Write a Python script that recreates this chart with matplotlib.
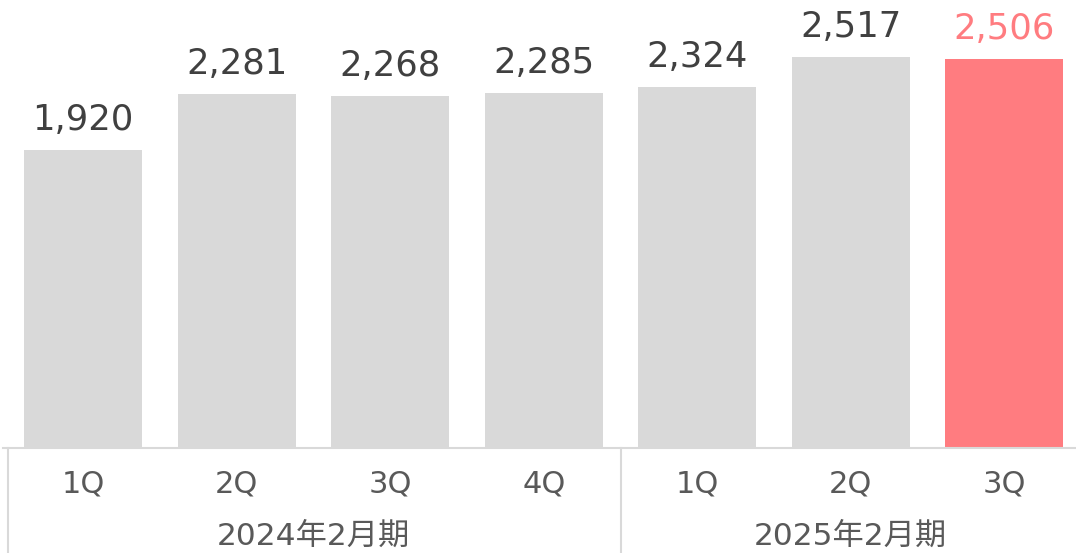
import matplotlib
matplotlib.use("Agg")
import matplotlib.pyplot as plt
from matplotlib.transforms import blended_transform_factory

plt.rcParams['font.family'] = ['DejaVu Sans', 'Noto Sans CJK JP']

quarters = ["1Q", "2Q", "3Q", "4Q", "1Q", "2Q", "3Q"]
values = [1920, 2281, 2268, 2285, 2324, 2517, 2506]
groups = ["2024年2月期", "2025年2月期"]
group_spans = [(0, 3), (4, 6)]
highlight_index = 6

bar_color = "#D9D9D9"
hi_color = "#FF7C80"
label_color = "#404040"
tick_color = "#595959"
line_color = "#D9D9D9"

W, H = 1076, 553
fig = plt.figure(figsize=(W / 100, H / 100), dpi=100)
left_px = 6.5
step = 153.5
ax_bottom_px = H - 448
ax = fig.add_axes([left_px / W, ax_bottom_px / H, 7 * step / W, 448 / H])
ax.set_xlim(-0.5, 6.5)
ax.set_ylim(0, 2884)
ax.axis('off')

x = list(range(len(values)))
colors = [hi_color if i == highlight_index else bar_color for i in x]
ax.bar(x, values, width=0.77, color=colors, zorder=2)

for i, v in enumerate(values):
    ax.annotate(f"{v:,}", (i, v), xytext=(0, 14.5), textcoords='offset points',
                ha='center', va='baseline', fontsize=25.5,
                color=hi_color if i == highlight_index else label_color)

tr = blended_transform_factory(ax.transData, ax.transAxes)
ybot = -ax_bottom_px / 448
# baseline
ax.plot([-0.52, 6.6], [0, 0], transform=tr, color=line_color, lw=1.5, clip_on=False, zorder=3)
# separators
for xs in [-0.49, 3.5, 6.5]:
    ax.plot([xs, xs], [0, ybot], transform=tr, color=line_color, lw=1.5, clip_on=False)

for i, q in enumerate(quarters):
    ax.text(i, -45 / 448, q, transform=tr, ha='center', va='baseline',
            fontsize=22, color=tick_color)

for g, (a, b) in zip(groups, group_spans):
    ax.text((a + b) / 2, -97 / 448, g, transform=tr, ha='center', va='baseline',
            fontsize=22.5, color=tick_color)

fig.savefig("out.png", dpi=100)
